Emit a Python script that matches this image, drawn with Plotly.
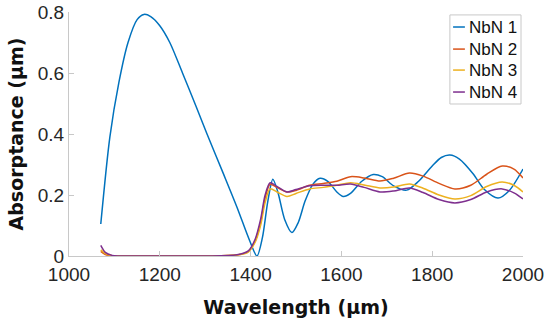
import plotly.graph_objects as go

# NbN 1
x1 = [1070, 1090, 1110, 1130, 1150, 1165, 1180, 1200, 1222, 1250, 1280, 1304, 1340, 1370,
      1398, 1414, 1426, 1438, 1449, 1460, 1475, 1491, 1505, 1520, 1537, 1553, 1570, 1590,
      1604, 1620, 1645, 1670, 1690, 1715, 1744, 1770, 1800, 1820, 1839, 1860, 1890, 1915,
      1945, 1970, 2000]
y1 = [0.105, 0.39, 0.57, 0.70, 0.775, 0.792, 0.785, 0.755, 0.70, 0.60, 0.49, 0.40, 0.27, 0.16,
      0.05, 0.0, 0.06, 0.18, 0.252, 0.21, 0.12, 0.077, 0.11, 0.18, 0.235, 0.255, 0.245, 0.21,
      0.195, 0.205, 0.245, 0.267, 0.26, 0.23, 0.216, 0.245, 0.295, 0.323, 0.331, 0.318, 0.27, 0.218,
      0.19, 0.215, 0.285]

# common wavelengths for NbN 2-4
xc = [1070, 1080, 1095, 1110, 1200, 1300, 1370, 1395, 1410, 1422, 1432, 1443, 1458, 1480,
      1500, 1530, 1560, 1590, 1620, 1650, 1685, 1715, 1750, 1780, 1815, 1850, 1885, 1920,
      1954, 1980, 2000]
y2 = [0.015, 0.005, 0.001, 0.0, 0.0, 0.0, 0.003, 0.015, 0.05, 0.11, 0.19, 0.235, 0.225, 0.21,
      0.215, 0.232, 0.238, 0.245, 0.26, 0.256, 0.246, 0.255, 0.272, 0.262, 0.238, 0.22, 0.232, 0.268,
      0.295, 0.285, 0.256]
y3 = [0.02, 0.008, 0.001, 0.0, 0.0, 0.0, 0.003, 0.013, 0.045, 0.10, 0.175, 0.22, 0.21, 0.195,
      0.205, 0.22, 0.225, 0.232, 0.24, 0.233, 0.223, 0.226, 0.236, 0.222, 0.2, 0.187, 0.198, 0.228,
      0.243, 0.232, 0.21]
y4 = [0.035, 0.012, 0.002, 0.0, 0.0, 0.0, 0.004, 0.017, 0.055, 0.12, 0.2, 0.24, 0.228, 0.21,
      0.218, 0.23, 0.232, 0.232, 0.236, 0.225, 0.21, 0.213, 0.223, 0.208, 0.185, 0.174, 0.185, 0.21,
      0.22, 0.207, 0.187]

names = ["NbN 1", "NbN 2", "NbN 3", "NbN 4"]
colors = ["#0072BD", "#D95319", "#EDB120", "#7E2F8E"]

x_ticks = [1000, 1200, 1400, 1600, 1800, 2000]
y_ticks = [0, 0.2, 0.4, 0.6, 0.8]

fig = go.Figure()
series = [(x1, y1), (xc, y2), (xc, y3), (xc, y4)]
for (xs, ys), n, c in zip(series, names, colors):
    fig.add_trace(go.Scatter(x=xs, y=ys, mode="lines", name=n, showlegend=False,
                             line=dict(color=c, width=1.5, shape="spline", smoothing=0.8)))

tick_font = dict(family="Liberation Sans, Arial", size=19, color="#262626")
title_font = dict(family="DejaVu Sans", size=19, color="#111")
axis_common = dict(showgrid=False, zeroline=False, showline=True, linecolor="#c8c8c8",
                   linewidth=1, ticks="inside", ticklen=5, tickcolor="#c8c8c8",
                   tickfont=tick_font, automargin=False, ticklabeloverflow="allow")
fig.update_xaxes(range=[1000, 2000], tickvals=x_ticks, ticktext=[str(v) for v in x_ticks],
                 ticklabelstandoff=1,
                 title=dict(text="<b>Wavelength (μm)</b>", standoff=16, font=title_font),
                 **axis_common)
fig.update_yaxes(range=[0, 0.8], tickvals=y_ticks, ticktext=["0", "0.2", "0.4", "0.6", "0.8"],
                 title=dict(text="<b>Absorptance (μm)</b>", standoff=9, font=title_font),
                 **axis_common)

# legend box drawn in plot-area paper coordinates
fig.add_shape(type="rect", xref="paper", yref="paper", x0=0.839, x1=0.9956, y0=0.623, y1=0.988,
              line=dict(color="#c8c8c8", width=1), fillcolor="white", layer="above")
leg_y = [0.9385, 0.848, 0.762, 0.672]
for n, c, yy in zip(names, colors, leg_y):
    fig.add_shape(type="line", xref="paper", yref="paper", x0=0.846, x1=0.872, y0=yy, y1=yy,
                  line=dict(color=c, width=1.5), layer="above")
    fig.add_annotation(text=n, xref="paper", yref="paper", x=0.877, y=yy, xanchor="left",
                       yanchor="middle", showarrow=False,
                       font=dict(family="Liberation Sans, Arial", size=17, color="#111"))

fig.update_layout(
    width=550, height=322,
    margin=dict(l=69, r=27, t=12, b=66),
    plot_bgcolor="white", paper_bgcolor="white",
    showlegend=False,
)

# remove the default 8px page margin so the figure fills the window exactly
fig.write_html("out.html", config={"displayModeBar": False},
               post_script="document.body.style.margin='0';document.body.style.padding='0';")
